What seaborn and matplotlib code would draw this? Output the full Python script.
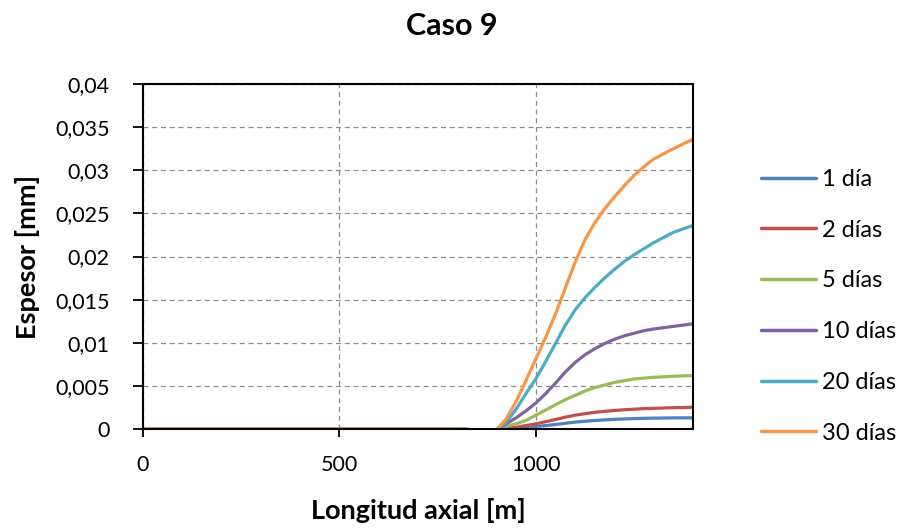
import matplotlib
matplotlib.use("Agg")
import matplotlib.pyplot as plt
import seaborn as sns
import pandas as pd
from matplotlib.ticker import FuncFormatter, MultipleLocator

# Axial position [m]
longitud = [0, 100, 200, 300, 400, 500, 600, 700, 800, 850,
            900, 925, 950, 975, 1000, 1025, 1050, 1075, 1100, 1125,
            1150, 1175, 1200, 1225, 1250, 1275, 1300, 1350, 1400]

# Deposit thickness [mm] per elapsed time
dia_1 = [0, 0, 0, 0, 0, 0, 0, 0, 0, -0.0001,
         -0.0001, 0.0000, 0.0001, 0.0002, 0.0003, 0.0004, 0.00052, 0.00066, 0.0008, 0.0009,
         0.00099, 0.00106, 0.00112, 0.00117, 0.00121, 0.00124, 0.00126, 0.00129, 0.0013]
dias_2 = [0, 0, 0, 0, 0, 0, 0, 0, 0, -0.0001,
          -0.0001, 0.0001, 0.0002, 0.0004, 0.0006, 0.00085, 0.0011, 0.00137, 0.0016, 0.00178,
          0.00193, 0.00205, 0.00215, 0.00223, 0.0023, 0.00236, 0.0024, 0.00247, 0.00252]
dias_5 = [0, 0, 0, 0, 0, 0, 0, 0, 0, -0.0001,
          -0.0001, 0.0003, 0.0006, 0.001, 0.0016, 0.0022, 0.0028, 0.0034, 0.0039, 0.0044,
          0.0048, 0.0051, 0.0054, 0.0056, 0.0058, 0.0059, 0.006, 0.00612, 0.0062]
dias_10 = [0, 0, 0, 0, 0, 0, 0, 0, 0, -0.0001,
           -0.0001, 0.0006, 0.0013, 0.0021, 0.003, 0.0041, 0.0053, 0.0066, 0.0077, 0.0086,
           0.0093, 0.0099, 0.0104, 0.0108, 0.0111, 0.0114, 0.0116, 0.0119, 0.0122]
dias_20 = [0, 0, 0, 0, 0, 0, 0, 0, 0, -0.0001,
           -0.0001, 0.0008, 0.0023, 0.0041, 0.0058, 0.0078, 0.0099, 0.012, 0.0138, 0.0152,
           0.0164, 0.0175, 0.0185, 0.0194, 0.0202, 0.0209, 0.0216, 0.0228, 0.0236]
dias_30 = [0, 0, 0, 0, 0, 0, 0, 0, 0, -0.0002,
           -0.0001, 0.0012, 0.0032, 0.0056, 0.0081, 0.0106, 0.0133, 0.0163, 0.0193, 0.0219,
           0.0239, 0.0255, 0.0269, 0.0282, 0.0294, 0.0304, 0.0313, 0.0325, 0.0336]

series_names = ["1 día", "2 días", "5 días", "10 días", "20 días", "30 días"]
series_values = [dia_1, dias_2, dias_5, dias_10, dias_20, dias_30]
colors = ["#4F81BD", "#C0504D", "#9BBB59", "#8064A2", "#4BACC6", "#F79646"]

frames = []
for name, vals in zip(series_names, series_values):
    frames.append(pd.DataFrame({"Longitud": longitud, "Espesor": vals, "Serie": name}))
df = pd.concat(frames, ignore_index=True)

sns.set_theme(style="white")
plt.rcParams["font.family"] = ["Lato", "DejaVu Sans"]
plt.rcParams["text.color"] = "black"
plt.rcParams["axes.labelcolor"] = "black"
plt.rcParams["xtick.color"] = "black"
plt.rcParams["ytick.color"] = "black"
plt.rcParams["lines.solid_capstyle"] = "round"
plt.rcParams["lines.solid_joinstyle"] = "round"

fig = plt.figure(figsize=(9.14, 5.29), dpi=100)
ax = fig.add_axes([0.1565, 0.189, 0.6015, 0.652])

sns.lineplot(data=df, x="Longitud", y="Espesor", hue="Serie",
             hue_order=series_names, palette=colors, linewidth=2.3,
             ax=ax, legend=False)

ax.set_xlim(0, 1400)
ax.set_ylim(0, 0.04)
ax.xaxis.set_major_locator(MultipleLocator(500))
ax.yaxis.set_major_locator(MultipleLocator(0.005))


def comma_fmt(v, pos):
    s = f"{v:.3f}".rstrip("0").rstrip(".")
    return s.replace(".", ",")


ax.yaxis.set_major_formatter(FuncFormatter(comma_fmt))
ax.xaxis.set_major_formatter(FuncFormatter(lambda v, p: f"{int(v)}"))

ax.grid(True, color="#8c8c8c", linestyle=(0, (4, 3)), linewidth=0.9)
ax.set_axisbelow(True)
for sp in ax.spines.values():
    sp.set_color("black")
    sp.set_linewidth(1.5)

ax.tick_params(axis="x", direction="out", length=6, width=1.3,
               color="black", labelcolor="black", labelsize=15.5, pad=13, bottom=True)
ax.tick_params(axis="y", direction="out", length=7, width=1.3,
               color="black", labelcolor="black", labelsize=15.5, pad=17, left=True)

ax.set_xlabel("Longitud axial [m]", fontsize=19.5, fontweight="bold", labelpad=16,
              color="black")
ax.set_ylabel("Espesor [mm]", fontsize=19.5, fontweight="bold", labelpad=11,
              color="black")

fig.text(0.494, 0.951, "Caso 9", ha="center", va="center",
         fontsize=22, fontweight="bold", color="black")

handles = [plt.Line2D([], [], color=c, linewidth=2.5) for c in colors]
fig.legend(handles, series_names, loc="center left",
           bbox_to_anchor=(0.833, 0.421), frameon=False,
           fontsize=17, handlelength=2.3, handletextpad=0.25,
           labelspacing=1.26, borderaxespad=0.0, borderpad=0.0,
           labelcolor="black")

fig.savefig("out.png", dpi=100)
